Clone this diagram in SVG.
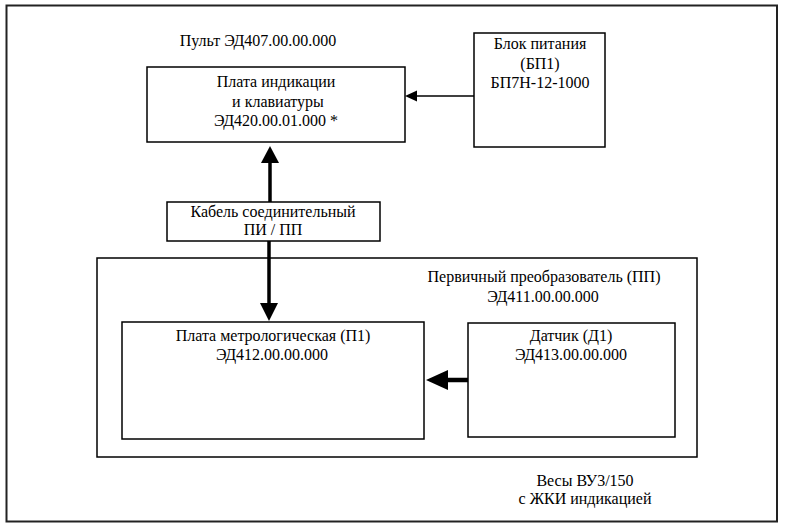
<svg xmlns="http://www.w3.org/2000/svg" width="787" height="528" viewBox="0 0 787 528">
<style>
rect.b{fill:#fff;stroke:#000;stroke-width:1.5}
text{font-size:16px;fill:#000;text-anchor:middle}
</style>
<rect x="0" y="0" width="787" height="528" fill="#fff"/>
<rect id="frame" x="6.5" y="5.5" width="770.5" height="516" fill="none" stroke="#222" stroke-width="2"/>
<g font-family="'Liberation Serif', 'DejaVu Serif', serif">
<text x="258" y="46">Пульт ЭД407.00.00.000</text>
<g id="plata-ind">
<rect class="b" x="147" y="67" width="258" height="75"/>
<text x="276" y="87">Плата индикации</text>
<text x="278" y="107">и клавиатуры</text>
<text x="276" y="126">ЭД420.00.01.000 *</text>
</g>
<g id="bp">
<rect class="b" x="474" y="33" width="131" height="114"/>
<text x="540" y="49">Блок питания</text>
<text x="540" y="69">(БП1)</text>
<text x="540" y="88">БП7Н-12-1000</text>
</g>
<g id="cable">
<rect class="b" x="167" y="202" width="213" height="39"/>
<text x="273" y="217">Кабель соединительный</text>
<text x="273" y="235">ПИ / ПП</text>
</g>
<g id="pp">
<rect class="b" x="97" y="258" width="600" height="199"/>
<text x="544" y="282">Первичный преобразователь (ПП)</text>
<text x="543" y="302">ЭД411.00.00.000</text>
</g>
<g id="plata-metro">
<rect class="b" x="122" y="322" width="302" height="117"/>
<text x="273" y="341">Плата метрологическая (П1)</text>
<text x="272" y="360">ЭД412.00.00.000</text>
</g>
<g id="datchik">
<rect class="b" x="468" y="323" width="207" height="114"/>
<text x="571" y="341">Датчик (Д1)</text>
<text x="571" y="360">ЭД413.00.00.000</text>
</g>
<text x="585" y="486">Весы ВУ3/150</text>
<text x="585" y="504">с ЖКИ индикацией</text>
</g>
<g id="connectors">
<line x1="474" y1="96" x2="416" y2="96" stroke="#000" stroke-width="1.5"/>
<polygon points="405,96 417,90.5 417,101.5" fill="#000"/>
<line x1="270" y1="202" x2="270" y2="160" stroke="#000" stroke-width="3.5"/>
<polygon points="270,146 261,163 279,163" fill="#000"/>
<line x1="269" y1="241" x2="269" y2="306" stroke="#000" stroke-width="3.5"/>
<polygon points="269,321 260,303 278,303" fill="#000"/>
<line x1="468" y1="380" x2="445" y2="380" stroke="#000" stroke-width="4.5"/>
<polygon points="426,380 448,370 448,390" fill="#000"/>
</g>
</svg>
